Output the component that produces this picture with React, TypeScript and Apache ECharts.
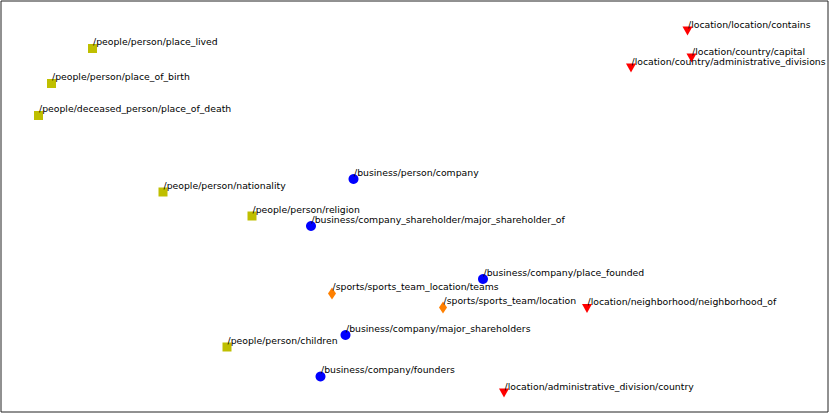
import React, { useEffect, useRef } from "react";
import * as echarts from "echarts";

// Relation labels and their 2-D embedding coordinates, per domain group
const peopleLabels = [
  "/people/person/place_lived",
  "/people/person/place_of_birth",
  "/people/deceased_person/place_of_death",
  "/people/person/nationality",
  "/people/person/religion",
  "/people/person/children",
];
const peopleX = [91.5, 50.5, 37.5, 162, 251, 226];
const peopleY = [363.5, 328.5, 296.5, 220, 196, 65];

const businessLabels = [
  "/business/person/company",
  "/business/company_shareholder/major_shareholder_of",
  "/business/company/place_founded",
  "/business/company/major_shareholders",
  "/business/company/founders",
];
const businessX = [352.5, 310, 482, 344.5, 319.5];
const businessY = [233, 186, 133, 77, 35.5];

const sportsLabels = [
  "/sports/sports_team_location/teams",
  "/sports/sports_team/location",
];
const sportsX = [331, 442];
const sportsY = [118.5, 104.5];

const locationLabels = [
  "/location/location/contains",
  "/location/country/capital",
  "/location/country/administrative_divisions",
  "/location/neighborhood/neighborhood_of",
  "/location/administrative_division/country",
];
const locationX = [686.5, 690.5, 630, 586, 503];
const locationY = [381, 354, 344, 103.5, 19];

const build = (labels: string[], xs: number[], ys: number[]) =>
  labels.map((name, i) => ({ name, value: [xs[i], ys[i]] }));

const label = {
  show: true,
  position: "inside" as const,
  align: "left" as const,
  verticalAlign: "middle" as const,
  offset: [0.5, -7],
  formatter: "{b}",
  color: "#000",
  textBorderWidth: 0,
  textBorderColor: "transparent",
  fontFamily: "DejaVu Sans",
  fontSize: 9.3,
};

export default function App() {
  const ref = useRef<HTMLDivElement>(null);
  useEffect(() => {
    if (!ref.current) return;
    const chart = echarts.init(ref.current, undefined, { renderer: "svg" });
    chart.setOption({
      animation: false,
      backgroundColor: "#fff",
      grid: {
        left: 1,
        top: 1,
        width: 827,
        height: 411,
        show: true,
        borderColor: "#222",
        borderWidth: 1,
        backgroundColor: "transparent",
      },
      xAxis: {
        type: "value",
        min: 0,
        max: 827,
        show: false,
      },
      yAxis: {
        type: "value",
        min: 0,
        max: 411,
        show: false,
      },
      series: [
        {
          type: "scatter",
          symbol: "rect",
          symbolSize: 9,
          itemStyle: { color: "#bfbf00", opacity: 1 },
          label,
          data: build(peopleLabels, peopleX, peopleY),
        },
        {
          type: "scatter",
          symbol: "circle",
          symbolSize: 10,
          itemStyle: { color: "#0000ff", opacity: 1 },
          label,
          data: build(businessLabels, businessX, businessY),
        },
        {
          type: "scatter",
          symbol: "diamond",
          symbolSize: [8, 12],
          itemStyle: { color: "#ff8000", opacity: 1 },
          label,
          data: build(sportsLabels, sportsX, sportsY),
        },
        {
          type: "scatter",
          symbol: "path://M0,0 L10,0 L5,9 Z",
          symbolSize: [10, 9],
          itemStyle: { color: "#ff0000", opacity: 1 },
          label,
          data: build(locationLabels, locationX, locationY),
        },
      ],
    });
    return () => chart.dispose();
  }, []);
  return (
    <div
      ref={ref}
      style={{ position: "fixed", left: 0, top: 0, width: 831, height: 414 }}
    />
  );
}
